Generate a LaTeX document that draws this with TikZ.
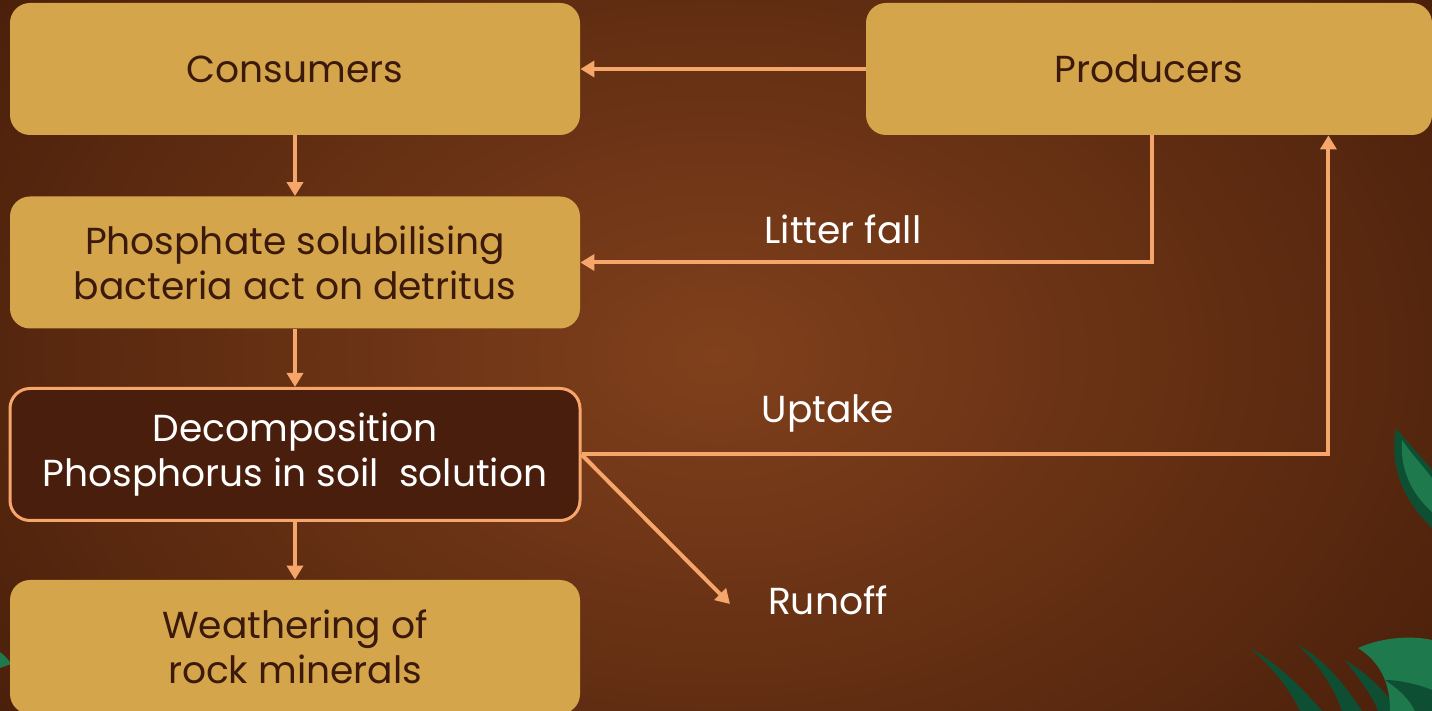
\documentclass[tikz,border=0pt]{standalone}
\usepackage{fontspec}
\setmainfont{Poppins}
\usetikzlibrary{arrows.meta,calc}
\definecolor{boxfill}{HTML}{D5A54B}
\definecolor{boxtext}{HTML}{3B1A0C}
\definecolor{darkfill}{HTML}{4A1E0C}
\definecolor{flow}{HTML}{F6A56B}
\definecolor{bgmid}{HTML}{80401C}
\definecolor{bgedge}{HTML}{431B08}
\definecolor{leafA}{HTML}{1E7A4C}
\definecolor{leafB}{HTML}{0E4F34}
\tikzset{
  stage/.style={rectangle, rounded corners=10pt, fill=boxfill, text=boxtext,
    minimum width=285pt, minimum height=66pt, align=center,
    font=\fontsize{18.8}{22.5}\selectfont, inner sep=0pt},
  focus/.style={stage, fill=darkfill, text=white, draw=flow, line width=1.5pt},
  flowline/.style={draw=flow, line width=2pt, -{Triangle[width=8pt,length=7pt]}},
  tag/.style={text=white, font=\fontsize{18.8}{22.5}\selectfont}
}
\begin{document}
\begin{tikzpicture}[x=0.5pt,y=-0.5pt]
  % background
  \useasboundingbox (0,0) rectangle (1432,711);
  \shade[inner color=bgmid, outer color=bgedge, shading=radial] (-300,-350) rectangle (1732,1061);
  % leaves on the right edge and at the foot
  \fill[leafB] (1396,428) .. controls (1390,460) and (1398,495) .. (1432,528) -- (1432,470) .. controls (1420,455) and (1405,440) .. cycle;
  \fill[leafA] (1402,440) .. controls (1400,468) and (1410,492) .. (1432,512) -- (1432,478) .. controls (1422,465) and (1410,452) .. cycle;
  \fill[leafB] (1250,648) .. controls (1275,670) and (1290,690) .. (1300,711) -- (1322,711) .. controls (1300,685) and (1275,662) .. cycle;
  \fill[leafB] (1298,645) .. controls (1320,665) and (1335,690) .. (1342,711) -- (1362,711) .. controls (1345,685) and (1325,660) .. cycle;
  \fill[leafB] (1345,660) .. controls (1360,680) and (1372,695) .. (1378,711) -- (1398,711) .. controls (1385,690) and (1365,672) .. cycle;
  \fill[leafA] (1358,648) .. controls (1385,636) and (1415,636) .. (1432,640) -- (1432,711) -- (1390,711) .. controls (1390,690) and (1385,665) .. cycle;
  \fill[leafB] (1385,680) .. controls (1400,690) and (1410,700) .. (1415,711) -- (1432,711) -- (1432,690) .. controls (1420,685) and (1400,680) .. cycle;
  \fill[leafA] (0,652) .. controls (5,656) and (9,660) .. (11,664) -- (0,668) -- cycle;

  % stages
  \node[stage] (cons) at (295,69) {Consumers};
  \node[stage, minimum width=283pt] (prod) at (1149,69) {Producers};
  \node[stage] (psb) at (295,262.5) {Phosphate solubilising\\bacteria act on detritus};
  \node[focus] (decomp) at (295,454.5) {Decomposition\\Phosphorus in soil\ \ solution};
  \node[stage, minimum height=67pt] (weath) at (295,647) {Weathering of\\rock minerals};

  % labels
  \node[tag] (litter) at (843,229) {Litter fall};
  \node[tag] (uptake) at (828,413) {Uptake};
  \node[tag] (runoff) at (828,600) {Runoff};
  \coordinate (runend) at (730,604);

  % flows
  \draw[flowline] (prod.west) -- (cons.east);
  \draw[flowline] (cons.south) -- (psb.north);
  \draw[flowline] ([xshift=1.5pt]prod.south) |- (psb.east);
  \draw[flowline] (psb.south) -- (decomp.north);
  \draw[flowline] (decomp.east) -| ([xshift=-52pt]prod.south east);
  \draw[flowline] (decomp.east) -- (runend);
  \draw[flowline] (decomp.south) -- (weath.north);
\end{tikzpicture}
\end{document}
